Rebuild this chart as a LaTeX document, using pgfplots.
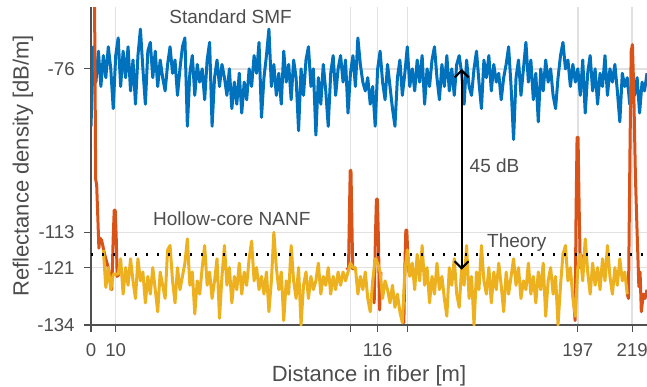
\documentclass[border=0pt]{standalone}
\usepackage{fontspec}
\setmainfont{Liberation Sans}
\usepackage{pgfplots}
\pgfplotsset{compat=1.18}
\usetikzlibrary{arrows.meta}
\definecolor{mblue}{RGB}{0,114,189}
\definecolor{morange}{RGB}{217,83,25}
\definecolor{myellow}{RGB}{237,177,32}
\definecolor{textgray}{RGB}{77,77,77}
\definecolor{axisgray}{RGB}{80,80,80}
\definecolor{gridgray}{RGB}{225,225,225}
\begin{document}
\begin{tikzpicture}
\begin{axis}[
  scale only axis, width=278pt, height=159pt,
  at={(0,0)}, anchor=south west,
  xmin=0, xmax=225, ymin=-134, ymax=-62,
  axis lines=left,
  axis line style={-, draw=axisgray, line width=0.6pt},
  xtick={0,10,105,116,128,197,219}, xticklabels={0,10,,116,,197,219},
  ytick={-134,-121,-113,-76}, yticklabels={-134,-121,-113,-76},
  tick align=outside, major tick length=3.5pt,
  tick style={draw=axisgray, line width=0.6pt},
  grid=major, major grid style={draw=gridgray, line width=0.7pt},
  tick label style={font=\fontsize{9.3}{11}\selectfont, text=textgray},
  yticklabel style={anchor=east, inner sep=0pt, xshift=-4.5pt},
  xticklabel style={anchor=north, inner sep=0pt, yshift=-5.5pt},
  label style={font=\fontsize{11}{13}\selectfont, text=textgray},
  xlabel={Distance in fiber [m]},
  ylabel={Reflectance density [dB/m]},
  xlabel style={at={(axis description cs:0.5,-0.1792)}, anchor=base, inner sep=0pt},
  ylabel style={at={(axis description cs:-0.112,0.5)}, anchor=base, inner sep=0pt},
  unbounded coords=jump,
]
% Standard SMF
\addplot[mblue, line width=1.5pt, line join=round] coordinates {
(0,-89) (1,-71) (2,-79) (3,-72) (4,-80) (5,-73) (6,-78) (7,-71) (8,-76) (9,-85)
(10,-73) (11,-69) (12,-80) (13,-72) (14,-78) (15,-71) (16,-81) (17,-74) (18,-84) (19,-73)
(20,-67) (21,-76) (22,-84) (23,-72) (24,-70) (25,-78) (26,-72) (27,-80) (28,-74) (29,-78)
(30,-81) (31,-75) (32,-71) (33,-77) (34,-74) (35,-82) (36,-76) (37,-71) (38,-69) (39,-89)
(40,-77) (41,-73) (42,-82) (43,-75) (44,-79) (45,-76) (46,-83) (47,-74) (48,-70) (49,-89)
(50,-78) (51,-74) (52,-80) (53,-75) (54,-78) (55,-82) (56,-76) (57,-85) (58,-79) (59,-84)
(60,-77) (61,-86) (62,-79) (63,-83) (64,-76) (65,-80) (66,-73) (67,-77) (68,-70) (69,-87)
(70,-78) (71,-73) (72,-67) (73,-80) (74,-75) (75,-82) (76,-77) (77,-84) (78,-72) (79,-79)
(80,-75) (81,-83) (82,-74) (83,-78) (84,-90) (85,-76) (86,-82) (87,-74) (88,-71) (89,-80)
(90,-76) (91,-91) (92,-78) (93,-84) (94,-75) (95,-81) (96,-89) (97,-77) (98,-73) (99,-82)
(100,-76) (101,-73) (102,-79) (103,-74) (104,-86) (105,-77) (106,-73) (107,-80) (108,-69) (109,-75)
(110,-79) (111,-81) (112,-78) (113,-84) (114,-80) (115,-89) (116,-76) (117,-72) (118,-79) (119,-83)
(120,-75) (121,-80) (122,-85) (123,-89) (124,-78) (125,-74) (126,-82) (127,-77) (128,-71) (129,-80)
(130,-76) (131,-81) (132,-74) (133,-79) (134,-73) (135,-84) (136,-76) (137,-80) (138,-74) (139,-71)
(140,-78) (141,-83) (142,-75) (143,-80) (144,-73) (145,-81) (146,-76) (147,-82) (148,-75) (149,-73)
(150,-77) (151,-84) (152,-74) (153,-80) (154,-82) (155,-76) (156,-72) (157,-79) (158,-85) (159,-74)
(160,-78) (161,-73) (162,-81) (163,-75) (164,-79) (165,-77) (166,-83) (167,-78) (168,-75) (169,-71)
(170,-80) (171,-92) (172,-78) (173,-74) (174,-82) (175,-76) (176,-70) (177,-79) (178,-74) (179,-83)
(180,-77) (181,-88) (182,-76) (183,-81) (184,-74) (185,-79) (186,-76) (187,-82) (188,-85) (189,-78)
(190,-73) (191,-70) (192,-76) (193,-74) (194,-80) (195,-75) (196,-79) (197,-76) (198,-82) (199,-74)
(200,-86) (201,-77) (202,-73) (203,-81) (204,-76) (205,-84) (206,-77) (207,-80) (208,-73) (209,-82)
(210,-76) (211,-79) (212,-75) (213,-81) (214,-88) (215,-77) (216,-80) (217,-78) (218,-84) (219,-79)
(220,-82) (221,-78) (222,-86) (223,-79) (224,-81) (225,-77)
};
% raw NANF with reflection peaks
\addplot[morange, line width=1.5pt, line join=round] coordinates {
(1.2,-40) (1.9,-101) (2.3,-102.3) (3.2,-116.6) (3.6,-114.3) (4.3,-114.8) (5,-116.6) (5.5,-118)
(7,-121) (8.4,-126) (9.0,-114) (9.4,-108) (9.8,-108) (10.2,-114) (10.6,-123) (11.5,-122.5)
(12,nan)
(103.5,-121) (104.2,-121.5) (104.6,-108) (104.9,-99) (105.2,-99) (105.5,-108) (105.9,-121.3) (106.5,-121)
(107,nan)
(114,-124) (114.6,-129) (115.1,-114) (115.5,-105.5) (115.9,-105.5) (116.3,-114) (116.8,-130.6) (117.3,-122)
(118,nan)
(126,-131) (126.6,-133.5) (127.1,-119) (127.4,-112.5) (127.8,-112.5) (128.2,-118) (128.7,-122) (129.2,-123)
(130,nan)
(195.3,-128) (195.9,-133) (196.3,-108) (196.7,-91.5) (197.1,-91.5) (197.5,-106) (198,-121) (198.5,-118)
(199,nan)
(217,-127) (217.5,-128) (218.1,-95) (218.6,-72) (219.1,-70.5) (219.6,-80) (220.3,-100) (220.8,-109.5) (221.7,-125.3)
(222.2,-122) (222.7,-131) (223.5,-127) (224.2,-128) (225,-126)
};
% NANF with peaks removed
\addplot[myellow, line width=1.5pt, line join=round] coordinates {
(5,-117) (6,-125.5) (7,-121) (8,-126) (9,-122.5)
(10,-122.5) (11,-122.5) (12,-119) (13,-127) (14,-121) (15,-125) (16,-119) (17,-124) (18,-128) (19,-119)
(20,-124) (21,-122) (22,-129) (23,-123) (24,-127) (25,-121) (26,-126) (27,-131) (28,-122) (29,-125)
(30,-128) (31,-117) (32,-116) (33,-124) (34,-129) (35,-121) (36,-126) (37,-123) (38,-120) (39,-114.5)
(40,-125) (41,-122) (42,-131.5) (43,-124) (44,-127) (45,-121) (46,-116) (47,-125) (48,-122) (49,-128)
(50,-124) (51,-119) (52,-132.5) (53,-123) (54,-116) (55,-125) (56,-121) (57,-129) (58,-123) (59,-126)
(60,-120) (61,-127) (62,-122) (63,-125) (64,-119) (65,-115) (66,-124) (67,-121) (68,-126) (69,-123)
(70,-127) (71,-122) (72,-131) (73,-124) (74,-113) (75,-121) (76,-126) (77,-122) (78,-133) (79,-124)
(80,-127) (81,-116) (82,-124) (83,-128) (84,-121) (85,-134) (86,-125) (87,-122) (88,-128) (89,-123)
(90,-126) (91,-124) (92,-120) (93,-127) (94,-123) (95,-125) (96,-121) (97,-127) (98,-123) (99,-126)
(100,-122) (101,-125) (102,-122) (103,-124) (104,-122) (105,-120) (106,-121) (107,-121) (108,-127) (109,-123)
(110,-126) (111,-122) (112,-128) (113,-131) (114,-124) (115,-119) (116,-120) (117,-122) (118,-128) (119,-124)
(120,-126) (121,-129) (122,-125) (123,-130) (124,-127) (125,-131) (126,-133.5) (127,-122) (128,-117) (129,-123)
(130,-120) (131,-126) (132,-118) (133,-124) (134,-116) (135,-125) (136,-121) (137,-129) (138,-123) (139,-127)
(140,-120) (141,-126) (142,-123) (143,-128) (144,-132) (145,-121) (146,-125) (147,-119) (148,-127) (149,-130)
(150,-121) (151,-125) (152,-116) (153,-128) (154,-123) (155,-134) (156,-122) (157,-126) (158,-116) (159,-124)
(160,-127) (161,-121) (162,-129) (163,-122) (164,-126) (165,-120) (166,-125) (167,-131) (168,-122) (169,-127)
(170,-123) (171,-119) (172,-125) (173,-121) (174,-128) (175,-124) (176,-126) (177,-120) (178,-127) (179,-123)
(180,-129) (181,-122) (182,-126) (183,-120) (184,-132) (185,-124) (186,-121) (187,-127) (188,-123) (189,-134)
(190,-125) (191,-118) (192,-116) (193,-124) (194,-121) (195,-128) (196,-132) (197,-121) (198,-118) (199,-124)
(200,-114.5) (201,-122) (202,-127) (203,-120) (204,-125) (205,-121) (206,-126) (207,-119) (208,-124) (209,-116)
(210,-123) (211,-127) (212,-121) (213,-125) (214,-119) (215,-124) (216,-122) (217,-127)
};
% theory
\addplot[black, line width=1.2pt, dash pattern=on 1.2pt off 4.3pt] coordinates {(0,-118) (225,-118)};
% annotations
\draw[black, line width=1.1pt, {Straight Barb[length=3.5pt,width=7pt]}-{Straight Barb[length=3.5pt,width=7pt]}]
  (axis cs:150,-76) -- (axis cs:150,-121.5);
\node[anchor=base, text=textgray, font=\fontsize{9.5}{11}\selectfont, inner sep=0pt] at (axis cs:56.5,-65.8) {Standard SMF};
\node[anchor=base, text=textgray, font=\fontsize{9.5}{11}\selectfont, inner sep=0pt] at (axis cs:57,-111.4) {Hollow-core NANF};
\node[anchor=base, text=textgray, font=\fontsize{9.5}{11}\selectfont, inner sep=0pt] at (axis cs:172.3,-116.4) {Theory};
\node[anchor=base, text=textgray, font=\fontsize{9.5}{11}\selectfont, inner sep=0pt] at (axis cs:163.3,-99.4) {45 dB};
\end{axis}
\pgfresetboundingbox
\path[use as bounding box] (-45.5pt,-30.5pt) rectangle (278pt,162.5pt);
\end{tikzpicture}
\end{document}
